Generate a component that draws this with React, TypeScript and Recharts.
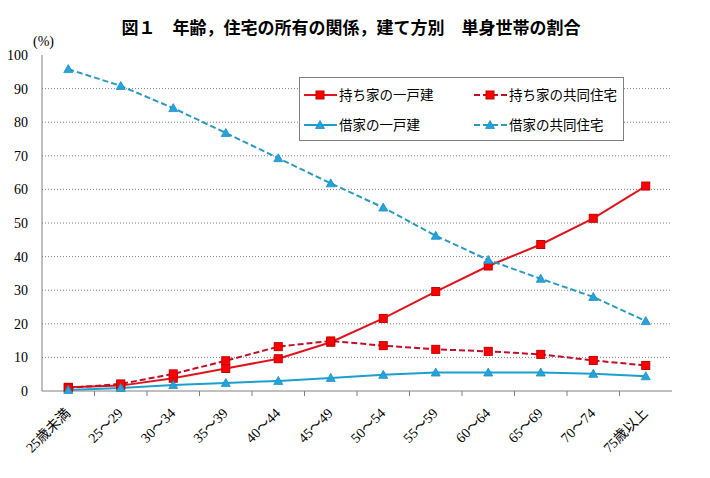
import { LineChart, Line, XAxis, YAxis, CartesianGrid, Legend } from 'recharts';

const ageGroups = [
  '25歳未満', '25～29', '30～34', '35～39', '40～44', '45～49',
  '50～54', '55～59', '60～64', '65～69', '70～74', '75歳以上',
];
const ownDetached = [1.1, 1.6, 3.8, 6.7, 9.6, 14.5, 21.6, 29.6, 37.2, 43.6, 51.4, 61.0];
const ownApartment = [0.9, 2.1, 5.1, 9.0, 13.2, 14.9, 13.5, 12.4, 11.8, 10.9, 9.1, 7.6];
const rentDetached = [0.3, 0.9, 1.8, 2.4, 3.0, 3.9, 4.8, 5.5, 5.5, 5.5, 5.1, 4.4];
const rentApartment = [95.8, 90.8, 84.2, 76.8, 69.3, 61.8, 54.6, 46.2, 39.0, 33.4, 28.0, 20.8];
const yTicks = [0, 10, 20, 30, 40, 50, 60, 70, 80, 90, 100];
const gridLines = [10, 20, 30, 40, 50, 60, 70, 80, 90];

const data = ageGroups.map((age, i) => ({
  age,
  ownDetached: ownDetached[i],
  ownApartment: ownApartment[i],
  rentDetached: rentDetached[i],
  rentApartment: rentApartment[i],
}));

const RED = '#ff0000';
const CYAN = '#27a3da';

const series = [
  { key: 'ownDetached', name: '持ち家の一戸建', stroke: '#e0141e', dash: undefined, marker: 'square' },
  { key: 'ownApartment', name: '持ち家の共同住宅', stroke: '#c00d28', dash: '6 3', marker: 'square' },
  { key: 'rentDetached', name: '借家の一戸建', stroke: '#1c9fd0', dash: undefined, marker: 'triangle' },
  { key: 'rentApartment', name: '借家の共同住宅', stroke: '#2a9abf', dash: '6 3', marker: 'triangle' },
];

const serif = "'Liberation Serif', 'Noto Sans CJK JP', serif";
const gothic = "'Noto Sans CJK JP', sans-serif";
const HALF_BAND = 26.25;

function Marker({ cx, cy, kind }: { cx: number; cy: number; kind: string }) {
  if (kind === 'square') {
    return <rect x={cx - 4} y={cy - 4} width={8} height={8} fill={RED} stroke="#c00000" strokeWidth={1} />;
  }
  return (
    <polygon
      points={`${cx},${cy - 4.5} ${cx + 4.5},${cy + 3.5} ${cx - 4.5},${cy + 3.5}`}
      fill={CYAN}
      stroke="#1b8fc4"
      strokeWidth={0.8}
    />
  );
}

// category label rotated 45°, plus the boundary tick to its right
function AgeTick(props: any) {
  const { x, y, payload, index } = props;
  const tx = x + 3;
  const ty = y + 23;
  return (
    <g>
      {index < ageGroups.length - 1 && (
        <line x1={x + HALF_BAND} y1={y} x2={x + HALF_BAND} y2={y + 5} stroke="#808080" />
      )}
      <text
        x={tx}
        y={ty}
        transform={`rotate(-45 ${tx} ${ty})`}
        textAnchor="end"
        fontSize={14}
        fontFamily={serif}
        fill="#000"
      >
        {payload.value}
      </text>
    </g>
  );
}

function LegendBox() {
  const cells = [
    { s: series[0], x: 5, y: 18 },
    { s: series[1], x: 175, y: 18 },
    { s: series[2], x: 5, y: 48 },
    { s: series[3], x: 175, y: 48 },
  ];
  return (
    <svg width={325} height={64} style={{ display: 'block' }}>
      <rect x={0.5} y={0.5} width={324} height={63} fill="#fff" stroke="#808080" />
      {cells.map(({ s, x, y }) => (
        <g key={s.key}>
          <line x1={x} y1={y} x2={x + 33} y2={y} stroke={s.stroke} strokeWidth={2} strokeDasharray={s.dash} />
          <Marker cx={x + 16} cy={y} kind={s.marker} />
          <text x={x + 35} y={y + 5} fontSize={13.5} fontFamily={gothic} fill="#000">
            {s.name}
          </text>
        </g>
      ))}
    </svg>
  );
}

export default function App() {
  return (
    <div style={{ position: 'absolute', left: 0, top: 0, width: 710, height: 478, background: '#fff' }}>
      <div
        style={{
          position: 'absolute',
          left: 0,
          top: 17,
          width: 702,
          textAlign: 'center',
          fontFamily: gothic,
          fontWeight: 'bold',
          fontSize: 17,
          lineHeight: '20px',
        }}
      >
        図１　年齢，住宅の所有の関係，建て方別　単身世帯の割合
      </div>
      <div style={{ position: 'absolute', left: 33, top: 34, fontFamily: serif, fontSize: 14 }}>(%)</div>
      <LineChart width={710} height={478} data={data} margin={{ top: 55, right: 38, bottom: 0, left: 0 }}>
        <CartesianGrid
          vertical={false}
          horizontalValues={gridLines}
          stroke="#808080"
          strokeDasharray="1 2"
        />
        <XAxis
          dataKey="age"
          height={87}
          padding={{ left: HALF_BAND, right: HALF_BAND }}
          interval={0}
          tickLine={false}
          tickSize={0}
          tickMargin={0}
          axisLine={{ stroke: '#808080' }}
          tick={<AgeTick />}
        />
        <XAxis
          xAxisId="top"
          dataKey="age"
          orientation="top"
          height={0}
          tick={false}
          tickLine={false}
          axisLine={{ stroke: '#808080' }}
        />
        <YAxis
          domain={[0, 100]}
          ticks={yTicks}
          width={42}
          interval={0}
          tickLine={false}
          tickSize={0}
          tickMargin={14}
          axisLine={{ stroke: '#808080' }}
          tick={{ fontSize: 14, fontFamily: serif, fill: '#000' }}
        />
        <YAxis
          yAxisId="right"
          orientation="right"
          width={0}
          domain={[0, 100]}
          tick={false}
          tickLine={false}
          axisLine={{ stroke: '#808080' }}
        />
        <Legend
          layout="horizontal"
          verticalAlign="middle"
          align="center"
          wrapperStyle={{ left: 299, top: 77, width: 325, height: 64 }}
          content={() => <LegendBox />}
        />
        {series.map((s) => (
          <Line
            key={s.key}
            type="linear"
            dataKey={s.key}
            name={s.name}
            stroke={s.stroke}
            strokeWidth={2}
            strokeDasharray={s.dash}
            isAnimationActive={false}
            dot={(p: any) => <Marker key={`${s.key}-${p.index}`} cx={p.cx} cy={p.cy} kind={s.marker} />}
            activeDot={false}
          />
        ))}
      </LineChart>
    </div>
  );
}
